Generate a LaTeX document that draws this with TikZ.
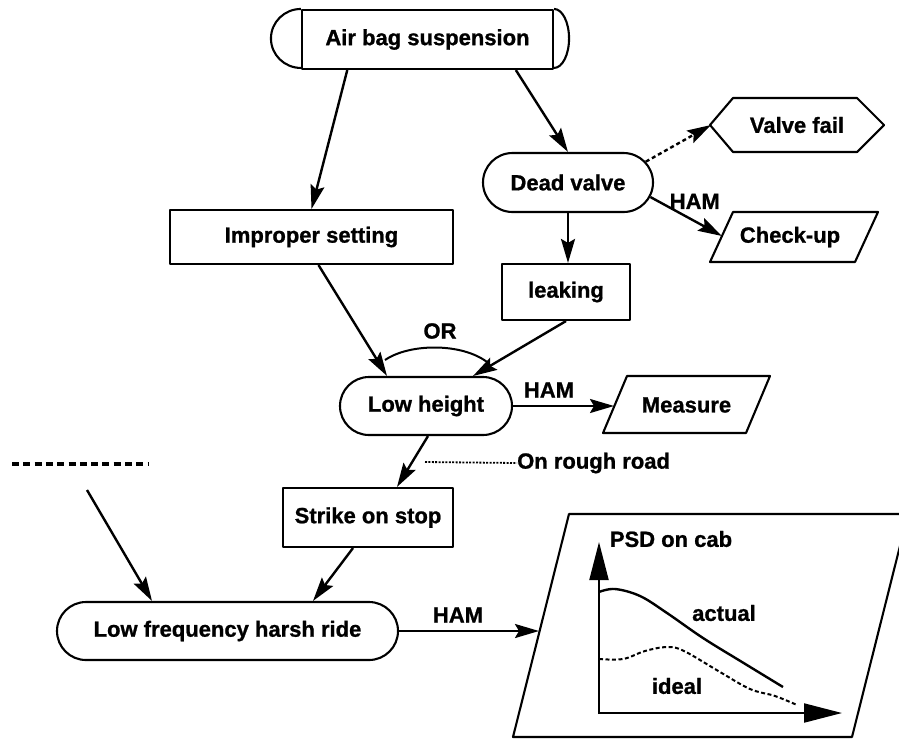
\documentclass[tikz,border=0pt]{standalone}
\usepackage{fontspec}
\setmainfont{Liberation Sans}[BoldFeatures={FakeBold=1.0}]
\usetikzlibrary{arrows.meta,shapes.misc,calc}
\begin{document}
\begin{tikzpicture}[x=1pt,y=-1pt,
  txt/.style={font=\bfseries\fontsize{22}{26}\selectfont, inner sep=0pt},
  outline/.style={line width=2.1pt, line join=round},
  box/.style={txt, draw, outline, rectangle},
  pill/.style={txt, draw, outline, rounded rectangle},
  conn/.style={line width=2.4pt, -{Stealth[length=24pt,width=14pt,inset=4pt]}},
  dashconn/.style={conn, dash pattern=on 4pt off 3pt},
  axis/.style={line width=2pt, -{Triangle[length=38pt,width=19pt]}}
]
\useasboundingbox (0,0) rectangle (899,740);
\fill[white] (0,0) rectangle (899,740);

% ---- top: air bag suspension (terminal with two different caps)
\node[box, minimum width=251pt, minimum height=59pt] (ab) at (427.5,39.5) {Air bag suspension};
\draw[outline] (ab.north west) arc[start angle=90, end angle=270, x radius=30pt, y radius=29.5pt];
\draw[outline] (ab.north east) arc[start angle=90, end angle=-90, x radius=15pt, y radius=29.5pt];

% ---- causes
\node[box, minimum width=283pt, minimum height=54pt] (is) at (311.5,237) {Improper setting};
\node[pill, minimum width=170pt, minimum height=59pt] (dv) at (568,182.5) {Dead valve};
\node[box, minimum width=128pt, minimum height=56pt] (lk) at (566,292) {leaking};

% valve fail (hexagon)
\node[txt] (vf) at (797,125) {Valve fail};
\draw[outline] (710,125) -- (733,98) -- (857,98) -- (884,125) -- (857,152) -- (733,152) -- cycle;
\coordinate (vf-w) at (711,125);

% check-up (parallelogram)
\node[txt] (cu) at (790,237) {Check-up};
\draw[outline] (733,212) -- (878,212) -- (855,262) -- (710,262) -- cycle;
\coordinate (cu-w) at (722,236);

% low height and measure
\node[pill, minimum width=172pt, minimum height=58pt] (lh) at (426,406) {Low height};
\node[txt] (ms) at (686.5,405) {Measure};
\draw[outline] (627,376) -- (770,376) -- (746,433) -- (603,433) -- cycle;
\coordinate (ms-w) at (614,406);

% strike on stop and harsh ride
\node[box, minimum width=170pt, minimum height=59pt] (ss) at (368,517.5) {Strike on stop};
\node[pill, minimum width=341pt, minimum height=58pt] (fr) at (227.5,631) {Low frequency harsh ride};

% condition on the strike
\node[txt, anchor=west] (rr) at (517,463) {On rough road};
\coordinate (rr-a) at (425,462);
\draw[line width=1.8pt, dash pattern=on 2pt off 1.4pt] (rr-a) -- (rr.west);

% other causes (elided)
\draw[line width=4pt, dash pattern=on 7pt off 4.3pt] (12,464) -- (148,464);
\coordinate (oc) at (87,490);

% ---- connectors
\draw[conn] ($(ab.south west)!0.183!(ab.south east)$) -- (is.north);
\draw[conn] ($(ab.south west)!0.849!(ab.south east)$) -- (dv.north);
\draw[dashconn] (dv.15) -- (vf-w);
\draw[conn] (dv.-10) -- (cu-w) node[txt, pos=0.62, above=11pt] (h1) {HAM};
\draw[conn] (dv.south) -- (dv.south |- lk.north);
\draw[conn] ([xshift=7pt]is.south) -- ([xshift=-39pt]lh.north);
\draw[conn] (lk.south) -- ([xshift=47pt]lh.north);
\draw[line width=2pt] (385,360) .. controls (410,343) and (462,343) .. (487,362);
\node[txt] (or) at (440,331) {OR};
\draw[conn] (lh.east) -- (ms-w);
\node[txt] (h2) at (549,390) {HAM};
\draw[conn] ([xshift=2pt]lh.south) -- ([xshift=29pt]ss.north);
\draw[conn] ([xshift=-15pt]ss.south) -- ([xshift=85.5pt]fr.north);
\draw[conn] (oc) -- ([xshift=-75.5pt]fr.north);

% ---- PSD chart
\draw[outline] (569,514) -- (908,514) -- (852,737) -- (513,737) -- cycle;
\coordinate (gb-w) at (539,631);
\draw[conn] (fr.east) -- (gb-w);
\node[txt] (h3) at (458,615) {HAM};

\draw[axis] (599,714) -- (599,542);
\draw[axis] (598,713) -- (842,713);
\node[txt] (psd) at (671,539) {PSD on cab};
\draw[line width=2.4pt] plot[smooth, tension=0.6] coordinates
  {(599,592) (615,589) (640,596) (667,613) (703,638) (742,662) (783,687)};
\draw[line width=2pt, dash pattern=on 4pt off 2.5pt] plot[smooth, tension=0.6] coordinates
  {(599,659) (623,659) (645,651) (667,647) (684,651) (720,672) (750,689) (775,696) (797,705)};
\node[txt] (act) at (724,613) {actual};
\node[txt] (idl) at (677,686) {ideal};
\end{tikzpicture}
\end{document}
